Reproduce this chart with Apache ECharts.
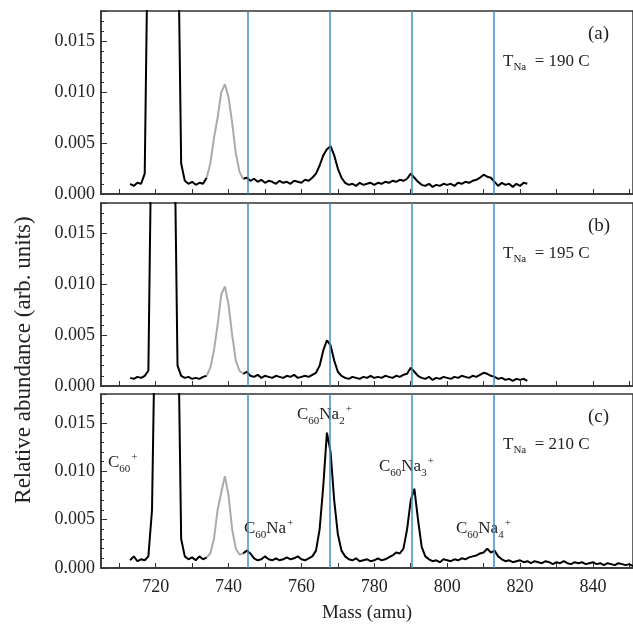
<!DOCTYPE html>
<html>
<head>
<meta charset="utf-8">
<script src="https://cdn.jsdelivr.net/npm/echarts@6/dist/echarts.min.js"></script>
<style>
  html, body { margin: 0; padding: 0; background: #fff; }
  #chart { width: 633px; height: 624px; }
</style>
</head>
<body>
<div id="chart"></div>
<script>
// spectra start at 713 amu, one value per amu
const startMass = 713;
const spectrumA = [
  .0010,.0008,.0011,.0010,.0020,.0300,.0300,.0300,.0300,.0300,.0300,.0300,.0300,.0300,.0030,.0013,.0010,.0012,.0009,.0011,
  .0010,.0016,.0030,.0055,.0075,.0100,.0108,.0095,.0070,.0040,.0022,.0015,.0016,.0013,.0015,.0012,.0014,.0011,.0013,.0012,
  .0010,.0013,.0011,.0012,.0010,.0013,.0012,.0011,.0014,.0013,.0016,.0020,.0028,.0038,.0044,.0047,.0038,.0025,.0016,.0011,
  .0009,.0010,.0008,.0011,.0009,.0010,.0011,.0009,.0011,.0010,.0012,.0011,.0013,.0012,.0014,.0013,.0015,.0020,.0016,.0012,
  .0009,.0008,.0010,.0007,.0009,.0008,.0010,.0009,.0010,.0008,.0011,.0010,.0012,.0011,.0013,.0014,.0016,.0019,.0017,.0016,
  .0012,.0008,.0011,.0009,.0010,.0007,.0010,.0008,.0011,.0010
];
const spectrumB = [
  .0008,.0007,.0009,.0008,.0010,.0015,.0300,.0300,.0300,.0300,.0300,.0300,.0300,.0020,.0010,.0008,.0009,.0007,.0008,.0007,
  .0009,.0010,.0018,.0035,.0060,.0090,.0098,.0080,.0050,.0025,.0015,.0012,.0014,.0010,.0009,.0011,.0008,.0010,.0009,.0008,
  .0010,.0009,.0008,.0010,.0009,.0011,.0008,.0009,.0010,.0009,.0011,.0013,.0020,.0035,.0045,.0040,.0025,.0014,.0010,.0008,
  .0007,.0009,.0008,.0007,.0009,.0008,.0010,.0008,.0009,.0008,.0010,.0009,.0008,.0010,.0009,.0011,.0012,.0018,.0014,.0010,
  .0008,.0007,.0009,.0006,.0008,.0007,.0009,.0008,.0007,.0009,.0008,.0010,.0009,.0008,.0010,.0009,.0011,.0013,.0012,.0010,
  .0009,.0007,.0008,.0006,.0007,.0005,.0007,.0006,.0007,.0005
];
const spectrumC = [
  .0008,.0012,.0007,.0009,.0008,.0012,.0060,.0300,.0300,.0300,.0300,.0300,.0300,.0300,.0030,.0012,.0009,.0011,.0008,.0012,
  .0009,.0011,.0015,.0030,.0060,.0078,.0095,.0075,.0040,.0020,.0014,.0015,.0018,.0015,.0010,.0008,.0009,.0012,.0009,.0008,
  .0010,.0008,.0009,.0011,.0009,.0010,.0012,.0009,.0008,.0010,.0012,.0018,.0040,.0085,.0140,.0120,.0070,.0035,.0018,.0012,
  .0009,.0008,.0010,.0007,.0008,.0009,.0007,.0008,.0010,.0008,.0009,.0011,.0013,.0016,.0015,.0020,.0040,.0070,.0082,.0050,
  .0022,.0012,.0009,.0007,.0008,.0006,.0009,.0008,.0007,.0009,.0008,.0010,.0009,.0011,.0012,.0013,.0015,.0016,.0020,.0016,
  .0018,.0012,.0009,.0007,.0008,.0006,.0007,.0008,.0006,.0007,.0005,.0007,.0006,.0005,.0007,.0006,.0004,.0006,.0005,.0007,
  .0005,.0004,.0006,.0005,.0006,.0004,.0005,.0006,.0004,.0005,.0003,.0005,.0004,.0003,.0005,.0004,.0003,.0004,.0002
];
// isotope region drawn in grey
const greyFrom = [734, 734, 734];
const greyTo = [744, 744, 744];
const markerMasses = [745.3, 767.8, 790.3, 812.8];
const xLabels = [720, 740, 760, 780, 800, 820, 840];
const xTicks = [710, 720, 730, 740, 750, 760, 770, 780, 790, 800, 810, 820, 830, 840, 850];
const panelTags = ["(a)", "(b)", "(c)"];
const temperatures = ["190 C", "195 C", "210 C"];
const yTicks = { min: 0, max: 0.018, interval: 0.005 };

const font = "Liberation Serif";
const spectra = [spectrumA, spectrumB, spectrumC];
const gridTops = [11, 203, 394];
const gridH = 183;

const chart = echarts.init(document.getElementById("chart"));
const grids = [], xAxes = [], yAxes = [], series = [], graphic = [];

spectra.forEach((sp, i) => {
  grids.push({ left: 101, right: -3, top: gridTops[i], height: gridH, show: true,
    borderColor: "#333", borderWidth: 1.5, backgroundColor: "transparent" });
  xAxes.push({
    gridIndex: i, type: "value", min: 705, max: 851,
    axisLine: { lineStyle: { color: "#333", width: 1.5 } },
    axisTick: { inside: true, length: 5, customValues: xTicks, lineStyle: { color: "#333" } },
    splitLine: { show: false },
    axisLabel: { show: i === 2, customValues: xLabels, color: "#222", fontFamily: font, fontSize: 18, margin: 10 },
    name: i === 2 ? "Mass (amu)" : "", nameLocation: "middle", nameGap: 36,
    nameTextStyle: { color: "#222", fontFamily: font, fontSize: 19 }
  });
  yAxes.push({
    gridIndex: i, type: "value", min: yTicks.min, max: yTicks.max, interval: yTicks.interval,
    axisLine: { show: true, lineStyle: { color: "#333", width: 1.5 } },
    axisTick: { inside: true, length: 6, lineStyle: { color: "#333" } },
    minorTick: { show: true, splitNumber: 5, length: 3, lineStyle: { color: "#333" } },
    splitLine: { show: false },
    axisLabel: { color: "#222", fontFamily: font, fontSize: 18, margin: 6,
      formatter: v => v.toFixed(3), showMaxLabel: false }
  });
  const black = [], grey = [];
  sp.forEach((v, k) => {
    const m = startMass + k;
    const inGrey = m >= greyFrom[i] && m <= greyTo[i];
    black.push([m, (inGrey && m !== greyFrom[i] && m !== greyTo[i]) ? null : v]);
    if (inGrey) grey.push([m, v]);
  });
  series.push({
    type: "line", xAxisIndex: i, yAxisIndex: i, data: black, showSymbol: false,
    connectNulls: false, clip: true, lineStyle: { color: "#000", width: 2 },
    markLine: { silent: true, symbol: "none", label: { show: false },
      lineStyle: { color: "#3d8fc6", width: 1.5, type: "solid" },
      data: markerMasses.map(x => ({ xAxis: x })) }
  });
  series.push({
    type: "line", xAxisIndex: i, yAxisIndex: i, data: grey, showSymbol: false,
    clip: true, lineStyle: { color: "#aaa", width: 2 }
  });
  graphic.push({ type: "text", left: 588, top: gridTops[i] + 14,
    style: { text: panelTags[i], font: "19px " + font, fill: "#222" } });
  graphic.push({ type: "text", left: 503, top: gridTops[i] + 42,
    style: { text: "{a|T}{s|Na}{a|  = " + temperatures[i] + "}", fill: "#222",
      rich: { a: { fontFamily: font, fontSize: 17, lineHeight: 20, verticalAlign: "bottom" },
              s: { fontFamily: font, fontSize: 11, lineHeight: 20, verticalAlign: "bottom", padding: [0, 0, -3, 0] } } } });
});

function ion(text, x, y) {
  const rich = {
    a: { fontFamily: font, fontSize: 17, lineHeight: 22, verticalAlign: "bottom" },
    s: { fontFamily: font, fontSize: 11, lineHeight: 22, verticalAlign: "bottom", padding: [0, 0, -4, 0] },
    p: { fontFamily: font, fontSize: 11, lineHeight: 22, verticalAlign: "bottom", padding: [0, 0, 8, 1] }
  };
  graphic.push({ type: "text", left: x, top: y, style: { text, fill: "#222", rich } });
}
ion("{a|C}{s|60}{p|+}", 108, 452);
ion("{a|C}{s|60}{a|Na}{s|2}{p|+}", 297, 404);
ion("{a|C}{s|60}{a|Na}{s|3}{p|+}", 379, 456);
ion("{a|C}{s|60}{a|Na}{p|+}", 244, 518);
ion("{a|C}{s|60}{a|Na}{s|4}{p|+}", 456, 518);

graphic.push({ type: "text", x: 24, y: 360, rotation: Math.PI / 2,
  style: { text: "Relative abundance (arb. units)", font: "23px " + font, fill: "#222",
    align: "center", verticalAlign: "middle" } });

chart.setOption({
  animation: false,
  grid: grids, xAxis: xAxes, yAxis: yAxes, series, graphic
});
</script>
</body>
</html>
